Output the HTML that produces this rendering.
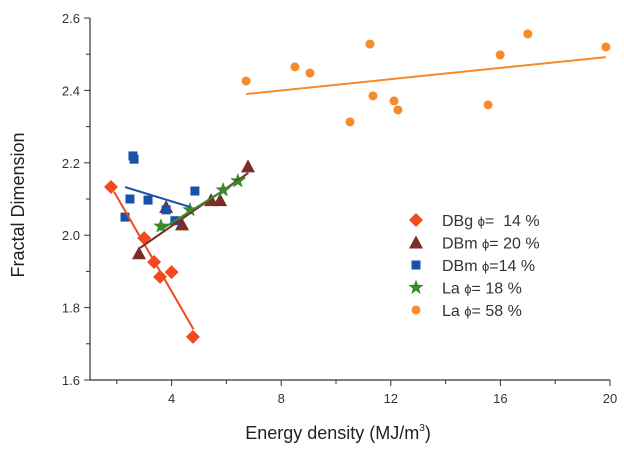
<!DOCTYPE html>
<html><head><meta charset="utf-8"><style>
body{margin:0;background:#fff;}
svg text{font-family:"Liberation Sans",sans-serif;white-space:pre;}
</style></head><body>
<svg id="c" width="624" height="445" xmlns="http://www.w3.org/2000/svg"></svg>
<script>
const xTicks=[4,8,12,16,20];
const yTicks=[1.6,1.8,2.0,2.2,2.4,2.6];
const dbgX=[1.79,3.0,3.36,3.58,4.0,4.78];
const dbgY=[2.133,1.992,1.926,1.885,1.898,1.719];
const dbgFit=[[1.9,2.12],[4.8,1.74]];
const dbm20X=[2.81,3.8,4.38,5.44,5.77,6.79];
const dbm20Y=[1.95,2.078,2.03,2.097,2.097,2.19];
const dbm20Fit=[[2.85,1.965],[6.8,2.172]];
const dbm14X=[2.3,2.48,2.59,2.63,3.14,3.8,4.12,4.85];
const dbm14Y=[2.05,2.1,2.219,2.21,2.097,2.07,2.04,2.122];
const dbm14Fit=[[2.3,2.133],[4.67,2.078]];
const la18X=[3.61,4.67,5.88,6.42];
const la18Y=[2.025,2.07,2.125,2.15];
const la18Fit=[[3.58,2.014],[6.68,2.161]];
const la58X=[6.72,8.5,9.05,10.51,11.24,11.35,12.12,12.26,15.55,15.99,17.0,19.85];
const la58Y=[2.426,2.465,2.448,2.313,2.528,2.385,2.371,2.346,2.36,2.498,2.556,2.52];
const la58Fit=[[6.72,2.39],[19.85,2.492]];
const legendPre=["DBg ","DBm ","DBm ","La ","La "];
const legendPost=["=  14 %","= 20 %","=14 %","= 18 %","= 58 %"];

const svg=document.getElementById('c');
const NS='http://www.w3.org/2000/svg';
const X=v=>62+v*27.4;
const Y=v=>380-(v-1.6)*362;
function el(t,a,p){const e=document.createElementNS(NS,t);for(const k in a)e.setAttribute(k,a[k]);(p||svg).appendChild(e);return e;}
function txt(s,a){const e=el('text',a);e.textContent=s;return e;}

let e=el('line',{x1:90,y1:380,x2:X(20),y2:380,stroke:'#333','stroke-width':1.2});

e=el('line',{x1:90,y1:380,x2:90,y2:Y(2.6),stroke:'#333','stroke-width':1.2});

for(let v=2;v<=20;v+=2){el('line',{x1:X(v),y1:380,x2:X(v),y2:v%4==0?386:384,stroke:'#333'});}
xTicks.forEach(v=>{const t=txt(v,{x:X(v),y:403,'text-anchor':'middle','font-size':13,fill:'#333'});
});
for(let v=1.6;v<=2.61;v+=0.1){const maj=Math.round(v*10)%2==0;el('line',{x1:90,y1:Y(v),x2:maj?84:86,y2:Y(v),stroke:'#333'});}
yTicks.forEach(v=>{const t=txt(v.toFixed(1),{x:80,y:Y(v)+5,'text-anchor':'end','font-size':13,fill:'#333'});
});
e=txt('Energy density (MJ/m',{x:338,y:439,'text-anchor':'middle','font-size':18,fill:'#222'});
const sup=el('tspan',{dy:-8,'font-size':10},e);sup.textContent='3';
const cl=el('tspan',{dy:8},e);cl.textContent=')';

e=txt('Fractal Dimension',{x:24,y:205,'text-anchor':'middle','font-size':18,fill:'#222',transform:'rotate(-90 24 205)'});


function marker(kind,x,y,color){
  if(kind=='diamond')return el('polygon',{points:`${x},${y-7} ${x+7},${y} ${x},${y+7} ${x-7},${y}`,fill:color});
  if(kind=='tri')return el('polygon',{points:`${x},${y-7} ${x+7},${y+6} ${x-7},${y+6}`,fill:color});
  if(kind=='sq')return el('rect',{x:x-4.5,y:y-4.5,width:9,height:9,fill:color});
  if(kind=='circ')return el('circle',{cx:x,cy:y,r:4.5,fill:color});
  if(kind=='star'){let p=[];for(let i=0;i<10;i++){const r=i%2?3.3:8,a=-Math.PI/2+i*Math.PI/5;p.push((x+r*Math.cos(a)).toFixed(1)+','+(y+r*Math.sin(a)).toFixed(1));}
    return el('polygon',{points:p.join(' '),fill:color});}
}
const series=[
 {n:'dbg-14',xs:dbgX,ys:dbgY,fit:dbgFit,k:'diamond',c:'#f04a1e'},
 {n:'dbm-20',xs:dbm20X,ys:dbm20Y,fit:dbm20Fit,k:'tri',c:'#7a2e28'},
 {n:'dbm-14',xs:dbm14X,ys:dbm14Y,fit:dbm14Fit,k:'sq',c:'#1852a8'},
 {n:'la-18',xs:la18X,ys:la18Y,fit:la18Fit,k:'star',c:'#3a8a2e'},
 {n:'la-58',xs:la58X,ys:la58Y,fit:la58Fit,k:'circ',c:'#f78a2a'}];
series.forEach(s=>{
  s.xs.forEach((v,i)=>{const m=marker(s.k,X(v),Y(s.ys[i]),s.c);
    });
});
series.forEach(s=>{
  const l=el('line',{x1:X(s.fit[0][0]),y1:Y(s.fit[0][1]),x2:X(s.fit[1][0]),y2:Y(s.fit[1][1]),stroke:s.c,'stroke-width':2});
  
});
series.forEach((s,i)=>{
  const y=220+i*22.5;
  const m=marker(s.k,416,y,s.c);
  
  const t=el('text',{x:442,y:y+6,'font-size':16,fill:'#333'});
  const a=el('tspan',{},t);a.textContent=legendPre[i];
  const ph=el('tspan',{'font-size':13},t);ph.textContent='\u03d5';
  const b=el('tspan',{},t);b.textContent=legendPost[i];
  
});
</script>
</body></html>
